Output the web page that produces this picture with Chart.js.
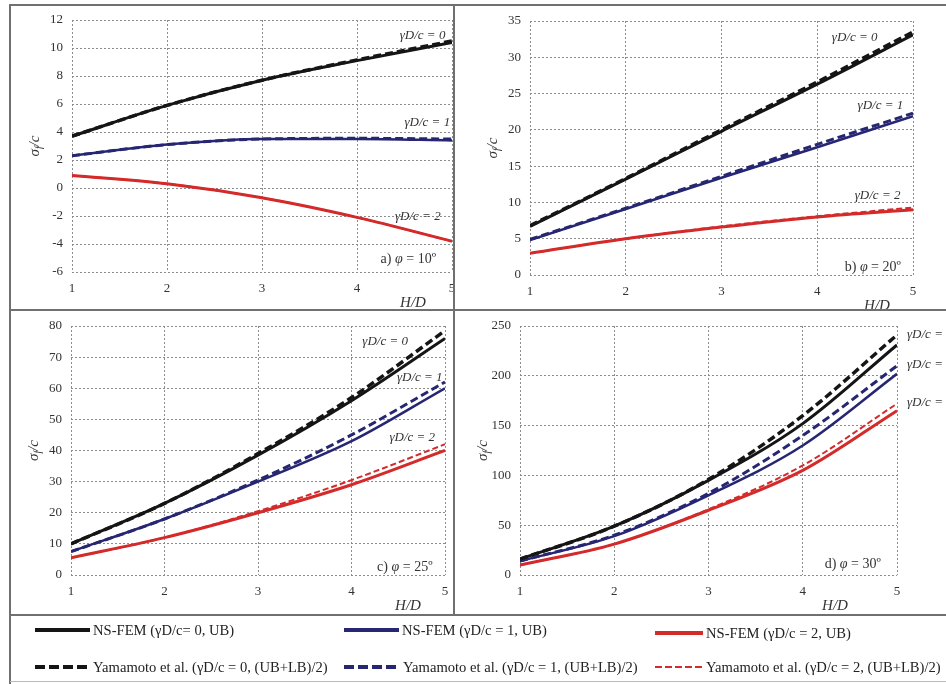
<!DOCTYPE html>
<html>
<head>
<meta charset="utf-8">
<script src="https://cdn.jsdelivr.net/npm/chart.js@4.4.0/dist/chart.umd.min.js"></script>
<style>
body{margin:0;background:#fff;width:946px;height:684px;overflow:hidden;position:relative;font-family:"Liberation Serif","Times New Roman",serif}
canvas{position:absolute}
.rule{position:absolute;background:#707070}
.leg{position:absolute;font-size:14.6px;color:#222;white-space:nowrap;line-height:16px}
.sw{position:absolute;height:4px}
</style>
</head>
<body>
<canvas id="pa" width="444" height="305" style="left:10px;top:5px"></canvas>
<canvas id="pb" width="491" height="305" style="left:455px;top:5px"></canvas>
<canvas id="pc" width="444" height="302" style="left:10px;top:312px"></canvas>
<canvas id="pd" width="491" height="302" style="left:455px;top:312px"></canvas>

<div class="rule" style="left:10px;top:4px;width:936px;height:2px"></div>
<div class="rule" style="left:9px;top:4px;width:2px;height:680px"></div>
<div class="rule" style="left:453px;top:4px;width:2px;height:611px"></div>
<div class="rule" style="left:10px;top:309px;width:936px;height:2px"></div>
<div class="rule" style="left:10px;top:614px;width:936px;height:2px"></div>
<div class="rule" style="left:10px;top:681px;width:936px;height:1px;background:#bbb"></div>

<!-- legenda -->
<div class="sw" style="left:35px;top:628px;width:55px;background:#151515"></div>
<div class="leg" style="left:93px;top:622px">NS-FEM (γD/c= 0, UB)</div>
<div class="sw" style="left:344px;top:628px;width:55px;background:#262673"></div>
<div class="leg" style="left:402px;top:622px">NS-FEM (γD/c = 1, UB)</div>
<div class="sw" style="left:655px;top:631px;width:48px;background:#d42a2a"></div>
<div class="leg" style="left:706px;top:625px">NS-FEM (γD/c = 2, UB)</div>

<div class="sw" style="left:35px;top:665px;width:56px;background:repeating-linear-gradient(90deg,#151515 0 10px,transparent 10px 14px)"></div>
<div class="leg" style="left:93px;top:659px">Yamamoto et al. (γD/c = 0, (UB+LB)/2)</div>
<div class="sw" style="left:344px;top:665px;width:56px;background:repeating-linear-gradient(90deg,#262673 0 10px,transparent 10px 14px)"></div>
<div class="leg" style="left:403px;top:659px">Yamamoto et al. (γD/c = 1, (UB+LB)/2)</div>
<div class="sw" style="left:655px;top:666px;width:48px;height:2px;background:repeating-linear-gradient(90deg,#d42a2a 0 7px,transparent 7px 10px)"></div>
<div class="leg" style="left:706px;top:659px">Yamamoto et al. (γD/c = 2, (UB+LB)/2)</div>

<script>
// eixo x comum
const hd = [1, 2, 3, 4, 5];

// a) phi = 10
const aFem0 = [3.7, 5.9, 7.7, 9.1, 10.4];
const aFem1 = [2.3, 3.1, 3.5, 3.5, 3.4];
const aFem2 = [0.9, 0.3, -0.7, -2.1, -3.8];
const aYam0 = [3.7, 5.9, 7.7, 9.15, 10.5];
const aYam1 = [2.3, 3.1, 3.5, 3.55, 3.5];
const aYam2 = [0.9, 0.3, -0.7, -2.1, -3.8];

// b) phi = 20
const bFem0 = [6.7, 13.2, 19.8, 26.3, 33.1];
const bFem1 = [4.8, 9.1, 13.4, 17.6, 21.9];
const bFem2 = [3.0, 5.0, 6.6, 8.0, 9.0];
const bYam0 = [6.8, 13.3, 20.0, 26.6, 33.5];
const bYam1 = [4.9, 9.2, 13.6, 18.0, 22.3];
const bYam2 = [3.0, 5.0, 6.7, 8.1, 9.3];

// c) phi = 25
const cFem0 = [10, 23, 38.5, 56, 76];
const cFem1 = [7.5, 18, 30, 43, 60];
const cFem2 = [5.5, 12, 20, 29, 40];
const cYam0 = [10, 23, 39, 57, 78.5];
const cYam1 = [7.5, 18, 30.5, 45, 62];
const cYam2 = [5.5, 12, 20.5, 30.5, 42];

// d) phi = 30
const dFem0 = [16, 49, 95, 152, 231];
const dFem1 = [14, 39, 80, 130, 202];
const dFem2 = [10, 31, 65, 105, 165];
const dYam0 = [16, 49, 96, 160, 241];
const dYam1 = [14, 40, 82, 140, 210];
const dYam2 = [10, 31, 66, 110, 172];

const BLACK = '#151515', BLUE = '#262673', RED = '#d42a2a';
const SERIF = '"Liberation Serif", "Times New Roman", serif';

function pts(ys) {
    return ys.map((y, i) => ({x: hd[i], y: y}));
}

// textos (titulos com subscrito, rotulos das curvas)
function richWidth(ctx, parts) {
    let w = 0;
    parts.forEach(p => { ctx.font = p.f; w += ctx.measureText(p.t).width; });
    return w;
}
function richDraw(ctx, parts, x, y) {
    parts.forEach(p => {
        ctx.font = p.f;
        ctx.fillText(p.t, x, y + (p.dy || 0));
        x += ctx.measureText(p.t).width;
    });
}

const panelText = {
    id: 'panelText',
    afterDraw(chart, args, o) {
        const ctx = chart.ctx, ca = chart.chartArea;
        const sx = chart.scales.x, sy = chart.scales.y;
        ctx.save();
        ctx.fillStyle = '#333';
        ctx.textBaseline = 'middle';
        // titulo y: sigma_f / c
        const yt = [
            {t: 'σ', f: 'italic 15px ' + SERIF},
            {t: 'f', f: 'italic 10px ' + SERIF, dy: 4},
            {t: '/c', f: 'italic 15px ' + SERIF}
        ];
        ctx.save();
        ctx.translate(ca.left - 37, (ca.top + ca.bottom) / 2);
        ctx.rotate(-Math.PI / 2);
        richDraw(ctx, yt, -richWidth(ctx, yt) / 2, 0);
        ctx.restore();
        // titulo x
        ctx.font = 'italic 15px ' + SERIF;
        ctx.textAlign = 'center';
        ctx.fillText('H/D', ca.right + o.xTitleDx, ca.bottom + 31);
        // rotulos gamma D / c
        ctx.font = 'italic 13px ' + SERIF;
        o.curves.forEach(c => {
            ctx.textAlign = c.align || 'center';
            ctx.fillText('γD/c = ' + c.v, sx.getPixelForValue(c.x), sy.getPixelForValue(c.y));
        });
        // etiqueta do painel
        const tag = [
            {t: o.tag + ') ', f: '14px ' + SERIF},
            {t: 'φ', f: 'italic 14px ' + SERIF},
            {t: ' = ' + o.phi + 'º', f: '14px ' + SERIF}
        ];
        ctx.textAlign = 'left';
        const tx = sx.getPixelForValue(o.tagX), ty = sy.getPixelForValue(o.tagY);
        richDraw(ctx, tag, tx - richWidth(ctx, tag) / 2, ty);
        ctx.restore();
    }
};

function makePanel(id, fem, yam, yCfg, layout, txt) {
    const ds = [];
    // tracejadas primeiro para ficarem por cima
    ds.push({data: pts(yam[0]), borderColor: BLACK, borderWidth: 3.5, borderDash: [8, 4]});
    ds.push({data: pts(yam[1]), borderColor: BLUE, borderWidth: 3, borderDash: [8, 4]});
    ds.push({data: pts(yam[2]), borderColor: RED, borderWidth: 2, borderDash: [6, 3]});
    ds.push({data: pts(fem[0]), borderColor: BLACK, borderWidth: 3});
    ds.push({data: pts(fem[1]), borderColor: BLUE, borderWidth: 2.5});
    ds.push({data: pts(fem[2]), borderColor: RED, borderWidth: 3});

    const gridCfg = {color: '#8c8c8c', lineWidth: 1, drawTicks: false};
    const tickFont = {family: SERIF, size: 13};

    new Chart(document.getElementById(id).getContext('2d'), {
        type: 'line',
        data: {datasets: ds},
        options: {
            responsive: false,
            animation: false,
            layout: {padding: {left: 0, top: layout.top, right: layout.right, bottom: 0}},
            elements: {
                point: {radius: 0},
                line: {cubicInterpolationMode: 'monotone', fill: false, borderCapStyle: 'butt'}
            },
            plugins: {
                legend: {display: false},
                tooltip: {enabled: false},
                panelText: txt
            },
            scales: {
                x: {
                    type: 'linear', min: 1, max: 5,
                    grid: gridCfg,
                    border: {display: false, dash: [2, 2]},
                    ticks: {stepSize: 1, color: '#333', font: tickFont, padding: 9},
                    afterFit: s => { s.height = layout.xh; s.paddingLeft = 0; s.paddingRight = 0; }
                },
                y: {
                    min: yCfg.min, max: yCfg.max,
                    grid: gridCfg,
                    border: {display: false, dash: [2, 2]},
                    ticks: {stepSize: yCfg.step, color: '#333', font: tickFont, padding: 9},
                    afterFit: s => { s.width = layout.yw; s.paddingTop = 0; s.paddingBottom = 0; }
                }
            }
        },
        plugins: [panelText]
    });
}

makePanel('pa', [aFem0, aFem1, aFem2], [aYam0, aYam1, aYam2],
    {min: -6, max: 12, step: 2},
    {top: 15, right: 2, yw: 62, xh: 38},
    {xTitleDx: -39, tag: 'a', phi: 10, tagX: 4.54, tagY: -5.1,
     curves: [{v: 0, x: 4.69, y: 10.9}, {v: 1, x: 4.74, y: 4.64}, {v: 2, x: 4.64, y: -2.07}]});

makePanel('pb', [bFem0, bFem1, bFem2], [bYam0, bYam1, bYam2],
    {min: 0, max: 35, step: 5},
    {top: 16, right: 33, yw: 75, xh: 35},
    {xTitleDx: -36, tag: 'b', phi: 20, tagX: 4.58, tagY: 1.1,
     curves: [{v: 0, x: 4.39, y: 32.66}, {v: 1, x: 4.66, y: 23.4}, {v: 2, x: 4.63, y: 11.0}]});

makePanel('pc', [cFem0, cFem1, cFem2], [cYam0, cYam1, cYam2],
    {min: 0, max: 80, step: 10},
    {top: 14, right: 9, yw: 61, xh: 39},
    {xTitleDx: -37, tag: 'c', phi: 25, tagX: 4.57, tagY: 2.6,
     curves: [{v: 0, x: 4.36, y: 74.9}, {v: 1, x: 4.73, y: 63.3}, {v: 2, x: 4.65, y: 44.0}]});

makePanel('pd', [dFem0, dFem1, dFem2], [dYam0, dYam1, dYam2],
    {min: 0, max: 250, step: 50},
    {top: 14, right: 49, yw: 65, xh: 39},
    {xTitleDx: -62, tag: 'd', phi: 30, tagX: 4.53, tagY: 11,
     curves: [{v: 0, x: 5.106, y: 241, align: 'left'}, {v: 1, x: 5.106, y: 211, align: 'left'}, {v: 2, x: 5.106, y: 173, align: 'left'}]});
</script>
</body>
</html>
